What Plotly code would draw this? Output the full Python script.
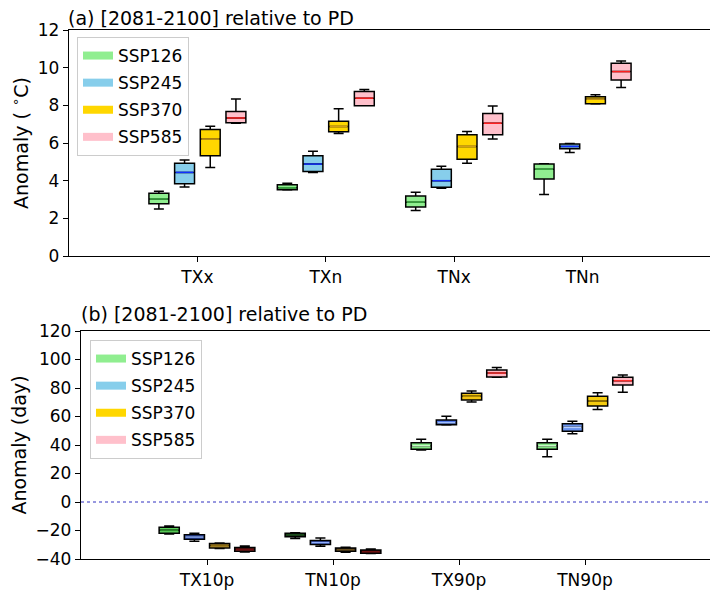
import plotly.graph_objects as go

# ---------------- data ----------------
ssps = ["SSP126", "SSP245", "SSP370", "SSP585"]
cats_a = ["TXx", "TXn", "TNx", "TNn"]
cats_b = ["TX10p", "TN10p", "TX90p", "TN90p"]

# panel (a): rows = SSP, cols = category
a_lo = [[2.49, 3.50, 2.42, 3.26],
        [3.67, 4.44, 3.60, 5.49],
        [4.70, 6.51, 4.93, 8.07],
        [7.05, 7.98, 6.21, 8.95]]
a_q1 = [[2.77, 3.52, 2.60, 4.09],
        [3.83, 4.49, 3.65, 5.70],
        [5.32, 6.60, 5.14, 8.09],
        [7.07, 7.98, 6.44, 9.35]]
a_med = [[3.03, 3.62, 2.86, 4.61],
         [4.44, 4.88, 4.00, 5.82],
         [6.21, 6.88, 5.82, 8.33],
         [7.33, 8.38, 7.05, 9.79]]
a_q3 = [[3.33, 3.78, 3.18, 4.88],
        [4.93, 5.32, 4.61, 5.95],
        [6.72, 7.16, 6.44, 8.45],
        [7.67, 8.74, 7.56, 10.23]]
a_hi = [[3.44, 3.86, 3.39, 4.90],
        [5.10, 5.56, 4.77, 5.97],
        [6.89, 7.82, 6.61, 8.56],
        [8.33, 8.84, 7.96, 10.35]]

# panel (b)
b_lo = [[-22.5, -25.7, 36.5, 31.8],
        [-27.6, -31.1, 54.0, 47.9],
        [-32.7, -35.3, 70.2, 65.0],
        [-35.1, -36.2, 87.5, 77.0]]
b_q1 = [[-22.0, -24.3, 37.0, 37.0],
        [-26.2, -29.9, 54.2, 49.6],
        [-32.3, -34.6, 71.6, 67.4],
        [-34.6, -36.0, 87.7, 82.1]]
b_med = [[-19.9, -22.9, 39.5, 39.5],
         [-24.6, -28.5, 55.7, 52.4],
         [-30.6, -33.4, 74.2, 70.9],
         [-33.2, -34.8, 90.5, 85.1]]
b_q3 = [[-17.8, -22.0, 41.6, 41.6],
        [-22.9, -27.1, 57.5, 55.0],
        [-29.2, -32.3, 76.3, 74.2],
        [-32.0, -33.7, 92.6, 87.5]]
b_hi = [[-16.8, -21.5, 44.0, 44.0],
        [-22.0, -25.3, 60.1, 56.6],
        [-28.8, -31.8, 77.9, 76.7],
        [-30.9, -33.0, 94.3, 89.1]]

# ---------------- styles ----------------
legend_colors = ["#90EE90", "#87CEEB", "#FFD700", "#FFC0CB"]
a_fill = [["#90EE90"] * 4, ["#87CEEB"] * 4, ["#FFD700"] * 4, ["#FFC0CB"] * 4]
a_medc = [["#3cb043"] * 4, ["#1030ff"] * 4, ["#d4a017"] * 4, ["#ff2020"] * 4]
b_fill = [["#5ccf5c", "#2e6e2e", "#85e885", "#85e885"],
          ["#3a60e0", "#3a5fe8", "#4a72e8", "#6a94f0"],
          ["#e2b43c", "#a8843a", "#f2c414", "#f5cc10"],
          ["#a52a2a", "#b02828", "#ffb6c1", "#ffb6c1"]]
b_medc = [["#2a8a2a", "#1a4a1a", "#c8f8c8", "#c8f8c8"],
          ["#90b0ff", "#90b0ff", "#a0c0ff", "#b8d0ff"],
          ["#8a6a10", "#6a5020", "#b08800", "#b08800"],
          ["#701010", "#701010", "#ff3030", "#ff3030"]]
offsets = [-0.3, -0.1, 0.1, 0.3]
FONT = "DejaVu Sans"
FS_TICK = 17
FS_LAB = 19
FS_LEG = 17

fig = go.Figure()
shapes = []


def add_panel(lo, q1, med, q3, hi, fill, medc, xa, ya, bw):
    for i in range(len(ssps)):
        for j in range(4):
            pos = j + 1 + offsets[i]
            fig.add_trace(go.Box(
                x=[pos], lowerfence=[lo[i][j]], q1=[q1[i][j]], median=[med[i][j]],
                q3=[q3[i][j]], upperfence=[hi[i][j]],
                width=bw, whiskerwidth=0.5, fillcolor=fill[i][j],
                line=dict(color="black", width=1.5), boxpoints=False,
                showlegend=False, hoverinfo="skip", xaxis=xa, yaxis=ya))
            shapes.append(dict(type="line", xref=xa, yref=ya,
                               x0=pos - bw / 2 + 0.008, x1=pos + bw / 2 - 0.008,
                               y0=med[i][j], y1=med[i][j],
                               line=dict(color=medc[i][j], width=1.5)))


add_panel(a_lo, a_q1, a_med, a_q3, a_hi, a_fill, a_medc, "x", "y", 0.155)
add_panel(b_lo, b_q1, b_med, b_q3, b_hi, b_fill, b_medc, "x2", "y2", 0.16)

# legend entries
for lg, xa, ya in [("legend", "x", "y"), ("legend2", "x2", "y2")]:
    for i, s in enumerate(ssps):
        fig.add_trace(go.Scatter(x=[None], y=[None], mode="lines", name=s,
                                 line=dict(color=legend_colors[i], width=8),
                                 legend=lg, legendgroup=lg + s,
                                 xaxis=xa, yaxis=ya))

# zero line in panel (b)
shapes.append(dict(type="line", xref="x2 domain", yref="y2", x0=0, x1=1, y0=0, y1=0,
                   line=dict(color="#3030c0", width=1, dash="dot")))

W, H = 718, 595
OFF = 8  # page body margin compensation
def px_x(v):
    return (v - OFF) / W
def px_y(v):
    return 1 - (v - OFF) / H

xa_dom = [px_x(69), px_x(711)]
xb_dom = [px_x(81), px_x(711)]
ya_dom = [px_y(256), px_y(30)]
yb_dom = [px_y(559), px_y(331)]

axis_common = dict(showline=True, mirror=True, linecolor="black", linewidth=1.3,
                   ticks="outside", ticklen=5, tickwidth=1.2, tickcolor="black",
                   showgrid=False, zeroline=False, automargin=False,
                   tickfont=dict(family=FONT, size=FS_TICK, color="black"))

leg_common = dict(bgcolor="white", bordercolor="#cccccc", borderwidth=1,
                  font=dict(family=FONT, size=FS_LEG, color="black"),
                  traceorder="grouped", tracegroupgap=2, itemwidth=30,
                  xanchor="left", yanchor="top")

fig.update_layout(
    width=W, height=H,
    margin=dict(l=0, r=0, t=0, b=0, autoexpand=False),
    paper_bgcolor="white", plot_bgcolor="white",
    boxmode="overlay",
    font=dict(family=FONT, size=FS_TICK, color="black"),
    xaxis=dict(domain=xa_dom, range=[0, 5], tickvals=[1, 2, 3, 4], ticktext=cats_a,
               anchor="y", **axis_common),
    yaxis=dict(domain=ya_dom, range=[0, 12], tickvals=[0, 2, 4, 6, 8, 10, 12],
               anchor="x",
               title=dict(text="Anomaly ( <sup>∘</sup>C)", font=dict(family=FONT, size=FS_LAB),
                          standoff=6),
               **axis_common),
    xaxis2=dict(domain=xb_dom, range=[0, 5], tickvals=[1, 2, 3, 4], ticktext=cats_b,
                anchor="y2", **axis_common),
    yaxis2=dict(domain=yb_dom, range=[-40, 120],
                tickvals=[-40, -20, 0, 20, 40, 60, 80, 100, 120],
                ticktext=["−40", "−20", "0", "20", "40", "60", "80", "100", "120"],
                anchor="x2",
                title=dict(text="Anomaly (day)", font=dict(family=FONT, size=FS_LAB),
                           standoff=6),
                **axis_common),
    legend=dict(x=px_x(77), y=px_y(37), **leg_common),
    legend2=dict(x=px_x(90), y=px_y(340), **leg_common),
    shapes=shapes,
    annotations=[
        dict(text="(a) [2081-2100] relative to PD", xref="paper", yref="paper",
             x=px_x(67), y=1.0, xanchor="left", yanchor="top", showarrow=False,
             borderpad=0, yshift=2,
             font=dict(family=FONT, size=FS_LAB, color="black")),
        dict(text="(b) [2081-2100] relative to PD", xref="paper", yref="paper",
             x=px_x(79), y=px_y(327), xanchor="left", yanchor="bottom", showarrow=False,
             font=dict(family=FONT, size=FS_LAB, color="black")),
    ],
)

fig.write_html("out.html")
